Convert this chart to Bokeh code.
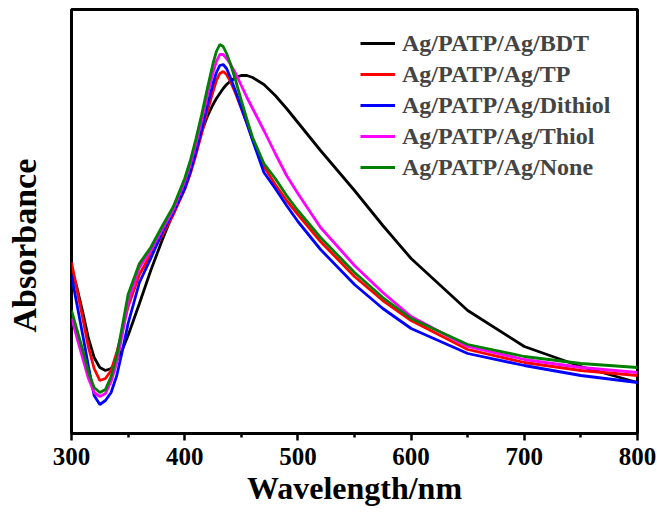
from bokeh.plotting import figure
from bokeh.models import Range1d, FixedTicker, Title
from bokeh.embed import file_html
from bokeh.resources import INLINE

# Wavelength grid (nm)
wavelength = [300, 305, 310, 315, 320, 325, 330, 335, 340, 345, 350, 360, 370, 380,
              390, 400, 405, 410, 415, 420, 425, 428, 431, 434, 437, 440, 445, 450,
              455, 460, 470, 480, 490, 500, 520, 550, 575, 600, 650, 700, 750, 800]

# Absorbance (arbitrary units) for each sample
bdt = [165, 145, 121, 95, 76, 66, 63, 65, 73, 84, 98, 130, 163, 193,
       221, 248, 266, 283, 302, 317, 329, 335, 340, 345, 349, 352, 356, 358,
       358, 356, 349, 338, 325, 311, 283, 243, 208, 175, 123, 87, 67, 51]
tp = [171, 143, 115, 86, 65, 53, 55, 63, 81, 103, 127, 159, 179, 198,
      219, 244, 260, 279, 300, 322, 342, 353, 360, 362, 359, 353, 340, 325,
      310, 294, 267, 249, 233, 219, 192, 157, 133, 113, 84, 71, 63, 58]
dithiol = [158, 128, 98, 67, 38, 29, 33, 41, 58, 83, 110, 151, 175, 201,
           221, 245, 262, 282, 304, 328, 350, 361, 368, 369, 365, 357, 342, 326,
           310, 293, 261, 245, 228, 212, 184, 149, 125, 105, 80, 68, 58, 51]
thiol = [116, 95, 75, 55, 41, 37, 40, 52, 71, 100, 131, 166, 183, 204,
         224, 252, 269, 290, 313, 338, 361, 372, 379, 379, 375, 370, 360, 348,
         336, 325, 303, 280, 258, 240, 206, 168, 141, 117, 87, 74, 66, 61]
none = [123, 103, 83, 61, 46, 41, 44, 57, 78, 108, 139, 170, 186, 207,
        227, 255, 273, 295, 319, 345, 370, 382, 389, 387, 380, 371, 353, 333,
        314, 296, 270, 255, 238, 223, 196, 161, 136, 115, 89, 77, 70, 66]

series = [
    ("Ag/PATP/Ag/BDT", bdt, "black"),
    ("Ag/PATP/Ag/TP", tp, "#ff0000"),
    ("Ag/PATP/Ag/Dithiol", dithiol, "#0000ff"),
    ("Ag/PATP/Ag/Thiol", thiol, "#ff00ff"),
    ("Ag/PATP/Ag/None", none, "#008000"),
]

x_ticks = [300, 400, 500, 600, 700, 800]
x_minor_ticks = [350, 450, 550, 650, 750]
FONT = "Liberation Serif"

p = figure(width=657, height=513, output_backend="svg", toolbar_location=None,
           x_range=Range1d(300, 800), y_range=Range1d(0, 424),
           min_border_left=71, min_border_right=20,
           min_border_top=9, min_border_bottom=80)
p.grid.visible = False
p.outline_line_color = "black"
p.outline_line_width = 3
p.background_fill_color = "white"
p.border_fill_color = "white"

for name, vals, color in series:
    p.line(wavelength, vals, line_color=color, line_width=2.8, legend_label=name)

# bottom axis: wavelength
ax = p.xaxis[0]
ax.ticker = FixedTicker(ticks=x_ticks, minor_ticks=x_minor_ticks)
ax.axis_line_width = 3
ax.major_tick_line_width = 2.5
ax.minor_tick_line_width = 2.5
ax.major_tick_in = 0
ax.major_tick_out = 7
ax.minor_tick_in = 0
ax.minor_tick_out = 4
ax.major_label_text_font = FONT
ax.major_label_text_font_style = "bold"
ax.major_label_text_font_size = "25px"
ax.major_label_text_color = "black"
ax.major_label_standoff = 7
ax.axis_label = "Wavelength/nm"
ax.axis_label_text_font = FONT
ax.axis_label_text_font_style = "bold"
ax.axis_label_text_font_size = "32px"
ax.axis_label_text_color = "black"
ax.axis_label_standoff = 2

# left axis shows nothing; its (hidden) tick only reserves a gap before the title
ay = p.yaxis[0]
ay.ticker = FixedTicker(ticks=[212], minor_ticks=[])
ay.axis_line_color = None
ay.major_tick_line_color = None
ay.minor_tick_line_color = None
ay.major_tick_in = 0
ay.major_tick_out = 28
ay.minor_tick_out = 0
ay.major_label_standoff = 0
ay.major_label_overrides = {212: ""}
ay.major_label_text_font_size = "0px"

# vertical title on the left side
p.add_layout(Title(text="Absorbance", align="left", offset=101, standoff=0,
                   vertical_align="middle",
                   text_font=FONT, text_font_style="bold",
                   text_font_size="34px", text_color="black"), "left")

lg = p.legend[0]
lg.location = (289, 252)
lg.padding = 0
lg.margin = 0
lg.spacing = 3
lg.border_line_color = None
lg.background_fill_alpha = 0
lg.glyph_width = 35
lg.glyph_height = 28
lg.label_height = 28
lg.label_standoff = 7
lg.label_text_font = FONT
lg.label_text_font_style = "bold"
lg.label_text_font_size = "24px"

open("out.html", "w").write(file_html(p, INLINE))
